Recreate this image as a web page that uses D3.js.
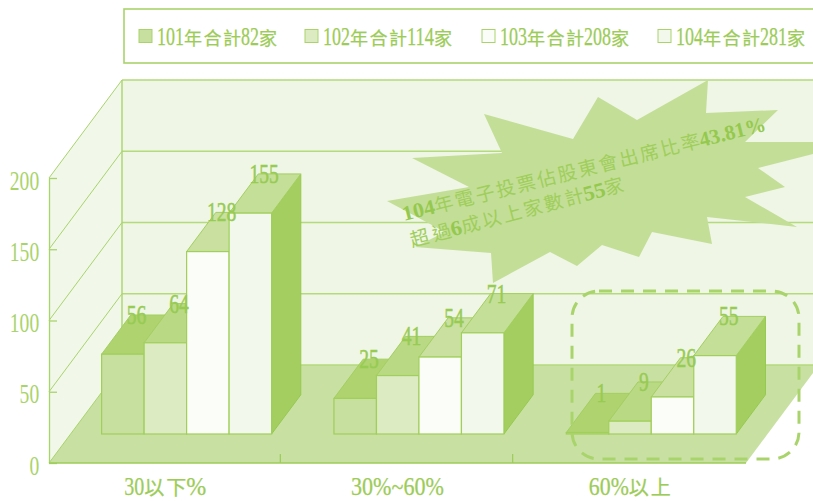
<!doctype html>
<html lang="zh-Hant">
<head>
  <meta charset="utf-8">
  <title>電子投票佔股東會出席比率</title>
  <script type="text/javascript" src="https://cdnjs.cloudflare.com/ajax/libs/d3/7.8.5/d3.min.js"></script>
  <style>
    html, body { margin: 0; padding: 0; background: #fff; overflow: hidden; }
    svg { display: block; }
    text { font-family: "Liberation Serif", "Noto Sans CJK TC", serif; }
  </style>
</head>
<body>
<svg width="813" height="501" id="svg"></svg>
<script type="text/javascript">

var categories = ['30以下%', '30%~60%', '60%以上'];
var seriesNames = ['101年合計82家', '102年合計114家', '103年合計208家', '104年合計281家'];
var values101 = [56, 25, 1];
var values102 = [64, 41, 9];
var values103 = [128, 54, 26];
var values104 = [155, 71, 55];
var yTicks = [0, 50, 100, 150, 200];
var seriesValues = [values101, values102, values103, values104];

var calloutLine1 = '104年電子投票佔股東會出席比率43.81%';
var calloutLine2 = '超過6成以上家數計55家';

var frontColors = ['#c7df9f', '#dcebc2', '#fbfdf8', '#f2f8ec'];
var topColors = ['#aed36f', '#b9d985', '#c9e0a0', '#c4df98'];
var sideColor = '#a4cf60';
var lineColor = '#a9d46c';
var textColor = '#9ccc57';

var svg = d3.select('#svg');

// front plane of the box, the back wall is the same thing moved by depth
var x = d3.scaleBand().domain(d3.range(categories.length)).range([49, 746]);
var inner = d3.scaleBand().domain(d3.range(seriesNames.length)).range([31, 201]);
var y = d3.scaleLinear().domain([0, 200]).range([463, 178]);
var depthX = 73, depthY = -98;

// bars stand a bit back from the front edge and are 0.4 of the depth deep
var barShift = 0.296, barDepth = 0.4;

function pts(list) {
	return list.map(function(p) { return p.join(','); }).join(' ');
}

// one text element, digits squeezed narrow like the original font
function mixedText(parent, str, startX, baseY, adv, size, cjkSize, anchor) {
	var runs = str.match(/[\u4e00-\u9fff]+|[^\u4e00-\u9fff]+/g);
	var t = parent.append('text')
		.attr('y', baseY)
		.attr('fill', textColor)
		.attr('stroke', textColor)
		.attr('stroke-width', 0.25);
	function width(s) {
		var w = 0;
		for (var i = 0; i < s.length; i++) {
			var c = s[i];
			if (/[\u4e00-\u9fff]/.test(c)) w += adv.cjk;
			else if (c == '%') w += adv.pct;
			else if (c == '~') w += adv.tilde;
			else w += adv.digit;
		}
		return w;
	}
	var cx = startX;
	if (anchor == 'middle') cx -= width(str) / 2;
	runs.forEach(function(r) {
		var isCjk = /[\u4e00-\u9fff]/.test(r);
		t.append('tspan')
			.attr('x', cx)
			.attr('font-size', isCjk ? cjkSize : size)
			.attr('textLength', width(r))
			.attr('lengthAdjust', isCjk ? 'spacing' : 'spacingAndGlyphs')
			.text(r);
		cx += width(r);
	});
	return t;
}

// legend box
svg.append('rect')
	.attr('x', 124).attr('y', 9)
	.attr('width', 720).attr('height', 54)
	.attr('fill', '#fff')
	.attr('stroke', lineColor)
	.attr('stroke-width', 1.6);

var legendX = [139, 305, 482, 658];
seriesNames.forEach(function(name, i) {
	svg.append('rect')
		.attr('x', legendX[i]).attr('y', 29.5)
		.attr('width', 13).attr('height', 13)
		.attr('fill', frontColors[i])
		.attr('stroke', lineColor)
		.attr('stroke-width', 1);
	mixedText(svg, name, legendX[i] + 18, 45, {digit: 9, cjk: 19}, 25, 18);
});

// walls and floor
var x0 = x.range()[0], x1 = x.range()[1];
svg.append('rect')
	.attr('x', x0 + depthX).attr('y', y(200) + depthY)
	.attr('width', 813).attr('height', y(0) - y(200))
	.attr('fill', '#eff6e6');
svg.append('polygon')
	.attr('points', pts([[x0, y(200)], [x0 + depthX, y(200) + depthY], [x0 + depthX, y(0) + depthY], [x0, y(0)]]))
	.attr('fill', '#f1f7e9');
svg.append('polygon')
	.attr('points', pts([[x0, y(0)], [x1, y(0)], [x1 + depthX, y(0) + depthY], [x0 + depthX, y(0) + depthY]]))
	.attr('fill', '#c9e0a3');

// gridlines run along the left wall and the back wall
svg.selectAll('.grid')
	.data(yTicks)
	.enter()
	.append('line')
	.attr('class', 'grid')
	.attr('x1', x0).attr('x2', x0 + depthX)
	.attr('y1', function(d) { return y(d); })
	.attr('y2', function(d) { return y(d) + depthY; })
	.attr('stroke', lineColor)
	.attr('stroke-width', 1);
svg.selectAll('.gridback')
	.data(yTicks)
	.enter()
	.append('line')
	.attr('class', 'gridback')
	.attr('x1', x0 + depthX).attr('x2', 850)
	.attr('y1', function(d) { return y(d) + depthY; })
	.attr('y2', function(d) { return y(d) + depthY; })
	.attr('stroke', '#b3da7b')
	.attr('stroke-width', 1.5);
svg.append('line')
	.attr('x1', x0 + depthX).attr('x2', x0 + depthX)
	.attr('y1', y(200) + depthY).attr('y2', y(0) + depthY)
	.attr('stroke', lineColor).attr('stroke-width', 1.4);

// y axis
var yAxis = svg.append('g')
	.attr('transform', 'translate(' + x0 + ',0)')
	.call(d3.axisLeft(y).tickValues(yTicks).tickSizeInner(-8).tickSizeOuter(0).tickPadding(0));
yAxis.select('.domain').attr('stroke', lineColor).attr('stroke-width', 1.3);
yAxis.selectAll('.tick line').attr('stroke', lineColor).attr('stroke-width', 1.3);
yAxis.selectAll('.tick text')
	.attr('fill', '#a9d46c')
	.attr('font-family', '"Liberation Serif", serif')
	.attr('font-size', 28)
	.attr('dy', 0)
	.attr('x', -14)
	.attr('y', 11)
	.attr('transform', 'scale(0.7,1)');

// front floor edge and the marks between the groups
svg.append('line')
	.attr('x1', x0).attr('x2', x1)
	.attr('y1', y(0)).attr('y2', y(0))
	.attr('stroke', '#9ccc57').attr('stroke-width', 1.3);
svg.selectAll('.cattick')
	.data(d3.range(1, categories.length))
	.enter()
	.append('line')
	.attr('class', 'cattick')
	.attr('x1', function(d) { return x(d) - 1; })
	.attr('x2', function(d) { return x(d) - 1; })
	.attr('y1', y(0) - 9).attr('y2', y(0))
	.attr('stroke', '#9ccc57').attr('stroke-width', 1.2);

// callout star, sits behind the bars on the back wall
var starPoints = [[412, 158], [502, 153], [484, 114], [573, 139], [598, 97], [637, 120], [708, 80],
	[706, 113], [778, 110], [745, 142], [860, 142], [758, 168], [785, 187], [745, 197], [797, 227],
	[707, 217], [712, 244], [652, 232], [639, 257], [602, 245], [577, 266], [550, 252], [493, 283],
	[491, 253], [415, 247], [445, 232], [387, 201], [469, 187]];
svg.append('polygon')
	.attr('points', pts(starPoints))
	.attr('fill', '#c3de97');

// bars
var bars = [];
categories.forEach(function(c, ci) {
	seriesNames.forEach(function(s, si) {
		bars.push({cat: ci, ser: si, value: seriesValues[si][ci]});
	});
});

var dx = depthX * barDepth, dy = depthY * barDepth;
var baseY = y(0) + depthY * barShift;

function barLeft(d) {
	return x(d.cat) + inner(d.ser) + depthX * barShift;
}
function barTop(d) {
	return baseY - (y(0) - y(d.value));
}

var barGroups = svg.selectAll('.bar')
	.data(bars)
	.enter()
	.append('g')
	.attr('class', 'bar');

barGroups.append('polygon')
	.attr('points', function(d) {
		var r = barLeft(d) + inner.bandwidth();
		return pts([[r, barTop(d)], [r + dx, barTop(d) + dy], [r + dx, baseY + dy], [r, baseY]]);
	})
	.attr('fill', sideColor)
	.attr('stroke', '#96c950')
	.attr('stroke-width', 1);

barGroups.append('polygon')
	.attr('points', function(d) {
		var l = barLeft(d), r = l + inner.bandwidth();
		return pts([[l, barTop(d)], [r, barTop(d)], [r + dx, barTop(d) + dy], [l + dx, barTop(d) + dy]]);
	})
	.attr('fill', function(d) { return topColors[d.ser]; })
	.attr('stroke', '#a4cf60')
	.attr('stroke-width', 1);

barGroups.append('rect')
	.attr('x', barLeft)
	.attr('y', barTop)
	.attr('width', inner.bandwidth())
	.attr('height', function(d) { return baseY - barTop(d); })
	.attr('fill', function(d) { return frontColors[d.ser]; })
	.attr('stroke', '#a0cf5a')
	.attr('stroke-width', 1.2);

// value labels sit on the back edge of the bar top
svg.selectAll('.value')
	.data(bars)
	.enter()
	.append('text')
	.attr('class', 'value')
	.attr('text-anchor', 'middle')
	.attr('font-size', 28)
	.attr('fill', '#97cb52')
	.attr('stroke', '#97cb52')
	.attr('stroke-width', 0.5)
	.attr('transform', function(d) {
		return 'translate(' + (barLeft(d) + 35) + ',' + (barTop(d) + dy + 9) + ') scale(0.7,1)';
	})
	.text(function(d) { return d.value; });

// category labels
categories.forEach(function(c, i) {
	mixedText(svg, c, x(i) + x.bandwidth() / 2, 495, {digit: 10, cjk: 21, pct: 20, tilde: 13}, 25, 20, 'middle');
});

// dashed box round the last group
svg.append('rect')
	.attr('x', 572).attr('y', 291)
	.attr('width', 227).attr('height', 168)
	.attr('rx', 27).attr('ry', 27)
	.attr('fill', 'none')
	.attr('stroke', lineColor)
	.attr('stroke-width', 3)
	.attr('stroke-dasharray', '13,9');

// callout text
function calloutText(str, px, py, angle) {
	var g = svg.append('g').attr('transform', 'translate(' + px + ',' + py + ') rotate(' + angle + ')');
	var runs = str.match(/[\u4e00-\u9fff]+|[^\u4e00-\u9fff]+/g);
	var t = g.append('text').attr('font-family', '"Liberation Sans", "Noto Sans CJK TC", sans-serif');
	var cx = 0;
	runs.forEach(function(r) {
		var isCjk = /[\u4e00-\u9fff]/.test(r);
		var w = 0;
		r.split('').forEach(function(c) {
			w += isCjk ? 21 : (c == '.' ? 5.6 : (c == '%' ? 17.8 : 11.1));
		});
		t.append('tspan')
			.attr('x', cx)
			.attr('font-size', isCjk ? 19 : 21)
			.attr('font-weight', isCjk ? 'normal' : 'bold')
			.attr('fill', isCjk ? '#9fce5b' : '#94c94e')
			.attr('textLength', w)
			.attr('lengthAdjust', isCjk ? 'spacing' : 'spacingAndGlyphs')
			.text(r);
		cx += w;
	});
}
calloutText(calloutLine1, 404, 221, -14);
calloutText(calloutLine2, 412, 247, -14.8);

</script>
</body>
</html>
